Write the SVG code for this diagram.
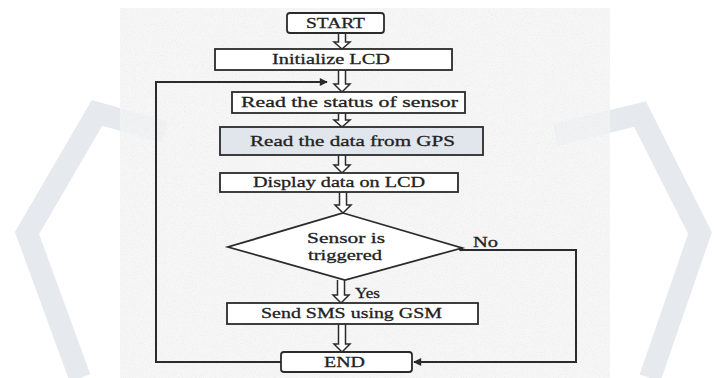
<svg xmlns="http://www.w3.org/2000/svg" width="715" height="378" viewBox="0 0 715 378">
<defs>
<style>
.box{fill:#fff;stroke:#2b2b2b;stroke-width:1.8}
.gps{fill:#e1e6ec;stroke:#2b2b2b;stroke-width:1.8}
.t{font-family:"Liberation Serif","DejaVu Serif",serif;font-size:15.5px;fill:#222;stroke:#222;stroke-width:0.3}
.ha{fill:#fff;stroke:#2b2b2b;stroke-width:1.5;stroke-linejoin:miter}
.ln{fill:none;stroke:#2b2b2b;stroke-width:2}
.wm{fill:none;stroke:#e6eaee;stroke-width:22;stroke-linejoin:miter}
</style>
<marker id="ah" viewBox="0 0 10 10" refX="9" refY="5" markerWidth="9" markerHeight="8" markerUnits="userSpaceOnUse" orient="auto">
<path d="M0,0 L10,5 L0,10 z" fill="#2b2b2b"/>
</marker>
<filter id="noise" x="0" y="0" width="100%" height="100%">
<feTurbulence type="fractalNoise" baseFrequency="0.9" numOctaves="2" seed="3" result="n"/>
<feColorMatrix in="n" type="matrix" values="0 0 0 0 0.6  0 0 0 0 0.6  0 0 0 0 0.6  0 0 0 -2.2 1.15" result="d"/>
<feComposite in="d" in2="SourceGraphic" operator="in"/>
</filter>
</defs>
<rect x="0" y="0" width="715" height="378" fill="#fff"/>
<g id="background">
<polyline class="wm" points="165,132 97,113 27,233 80,378"/>
<polyline class="wm" points="555,135 640,114 700,233 650,378"/>
<rect x="120" y="8" width="490" height="370" fill="#f4f4f4" opacity="0.8"/>
<rect x="120" y="8" width="490" height="370" fill="#f4f4f4" filter="url(#noise)" opacity="0.25"/>
</g>
<g id="connectors">
<path class="ha" d="M338.5,33 V42 H334 L342,49 L350,42 H345.5 V33"/>
<path class="ha" d="M338.5,70 V84 H334 L342,92 L350,84 H345.5 V70"/>
<path class="ha" d="M338.5,113 V120 H334 L342,127 L350,120 H345.5 V113"/>
<path class="ha" d="M338.5,155 V165 H334 L342,173 L350,165 H345.5 V155"/>
<path class="ha" d="M339.5,192 V205 H335 L343,213 L351,205 H346.5 V192"/>
<path class="ha" d="M337.5,280 V295 H333 L341,303 L349,295 H344.5 V280"/>
<path class="ha" d="M338.5,324 V344 H334 L342,352 L350,344 H345.5 V324"/>
<polyline class="ln" points="282,362 156,362 156,82 327,82" marker-end="url(#ah)"/>
<polyline class="ln" points="462,250 576,250 576,362 414,362" marker-end="url(#ah)"/>
<circle cx="461" cy="249" r="2.2" fill="#2b2b2b"/>
<text class="t" x="473" y="247" textLength="25" lengthAdjust="spacingAndGlyphs">No</text>
<text class="t" x="355" y="298" textLength="25" lengthAdjust="spacingAndGlyphs">Yes</text>
</g>
<g id="start">
<rect class="box" x="287" y="13" width="97" height="20" rx="3"/>
<text class="t" x="306" y="28" textLength="59" lengthAdjust="spacingAndGlyphs">START</text>
</g>
<g id="init">
<rect class="box" x="215" y="49" width="237" height="21"/>
<text class="t" x="272" y="64" textLength="118" lengthAdjust="spacingAndGlyphs">Initialize LCD</text>
</g>
<g id="status">
<rect class="box" x="232" y="92" width="233" height="21"/>
<text class="t" x="241" y="107" textLength="217" lengthAdjust="spacingAndGlyphs">Read the status of sensor</text>
</g>
<g id="gps">
<rect class="gps" x="220" y="127" width="263" height="28"/>
<text class="t" x="250" y="146" textLength="205" lengthAdjust="spacingAndGlyphs">Read the data from  GPS</text>
</g>
<g id="display">
<rect class="box" x="220" y="173" width="238" height="19"/>
<text class="t" x="253" y="187" textLength="172" lengthAdjust="spacingAndGlyphs">Display data on LCD</text>
</g>
<g id="decision">
<polygon class="box" points="343,213 462,248 345,280 228,247"/>
<text class="t" x="307" y="243" textLength="78" lengthAdjust="spacingAndGlyphs">Sensor  is</text>
<text class="t" x="308" y="260" textLength="74" lengthAdjust="spacingAndGlyphs">triggered</text>
</g>
<g id="sms">
<rect class="box" x="227" y="303" width="251" height="21"/>
<text class="t" x="261" y="318" textLength="181" lengthAdjust="spacingAndGlyphs">Send SMS using GSM</text>
</g>
<g id="end">
<rect class="box" x="281" y="352" width="131" height="20" rx="3"/>
<text class="t" x="324" y="367" textLength="41" lengthAdjust="spacingAndGlyphs">END</text>
</g>
</svg>
